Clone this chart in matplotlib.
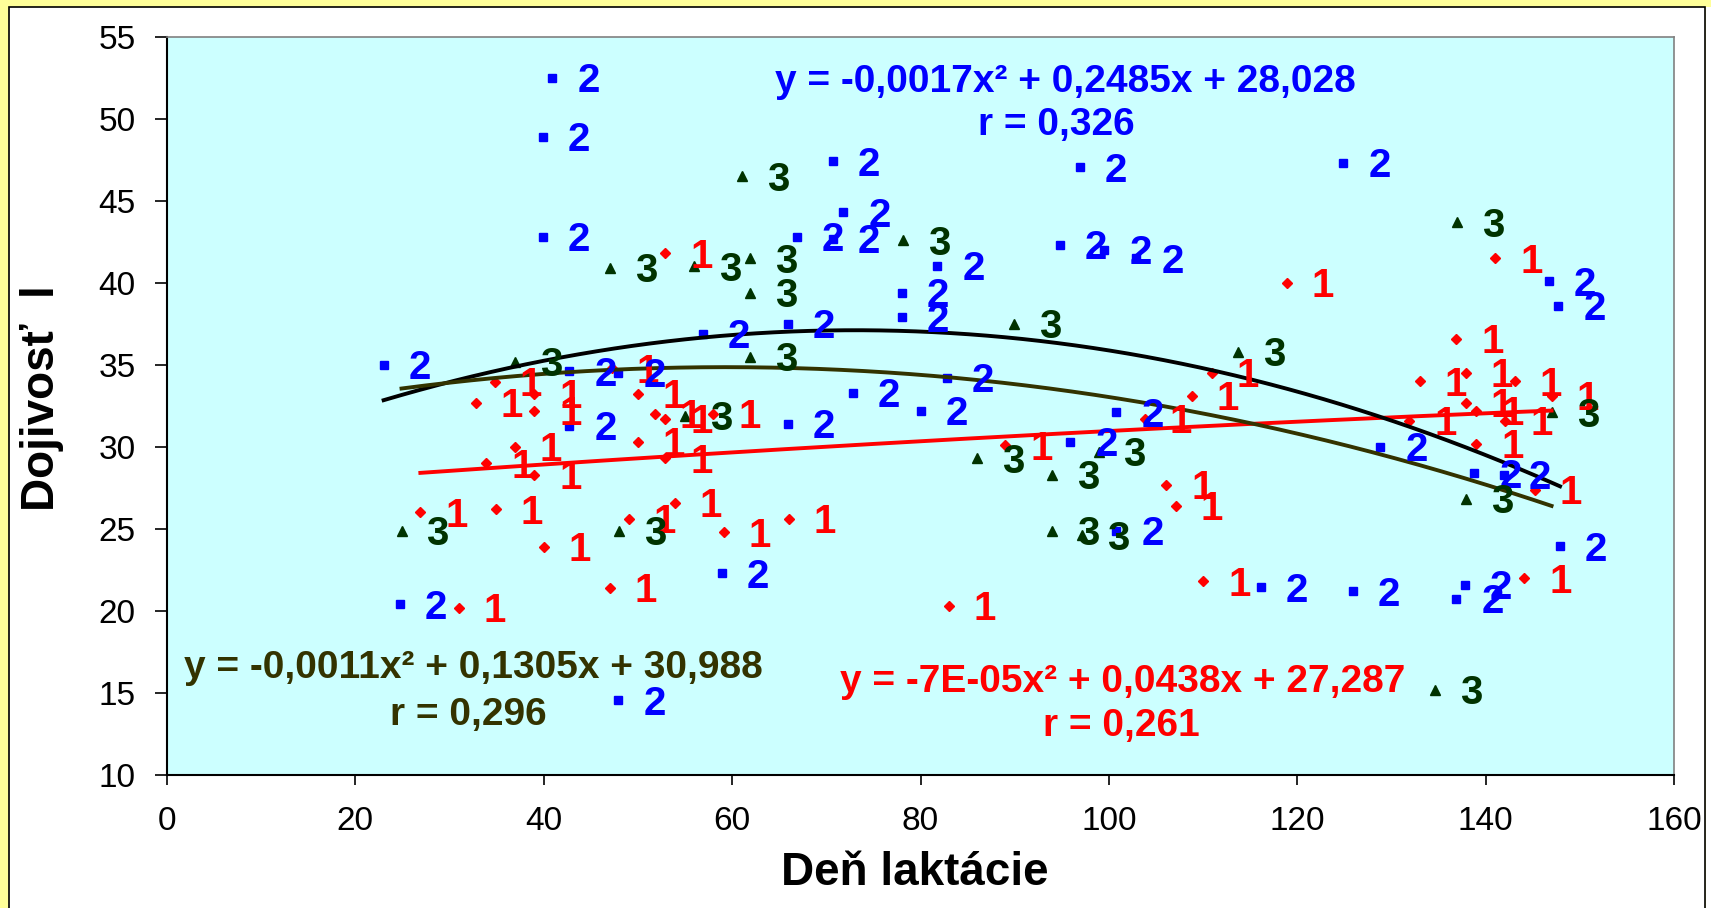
import matplotlib
matplotlib.use('Agg')
import numpy as np
from matplotlib import pyplot as plt
from matplotlib.patches import Rectangle

plt.rcParams['font.family'] = ['Liberation Sans', 'DejaVu Sans']

# group 1 (red diamonds)
day_1 = [26.9, 31.0, 32.8, 33.9, 34.8, 34.9, 36.9, 39.0, 39.0, 39.0, 40.0, 47.0, 47.2, 49.0,
         50.0, 50.0, 51.8, 52.9, 52.9, 52.9, 53.9, 58.0, 59.1, 66.0, 83.0, 89.0, 103.8, 106.1,
         107.1, 108.8, 110.0, 110.9, 118.9, 131.9, 133.0, 136.9, 137.9, 137.9, 139.0, 139.0,
         141.0, 142.1, 143.1, 144.1, 145.2, 147.0]
milk_1 = [26.0, 20.2, 32.7, 29.0, 33.95, 26.2, 30.0, 33.25, 32.2, 28.3, 23.9, 21.4, 34.8, 25.6,
          33.25, 30.3, 32.0, 31.7, 29.3, 41.8, 26.6, 32.0, 24.8, 25.6, 20.3, 30.1, 31.7, 27.7,
          26.4, 33.1, 21.8, 34.5, 40.0, 31.6, 34.0, 36.6, 34.5, 32.7, 32.2, 30.2,
          41.5, 31.6, 34.0, 22.0, 27.4, 33.1]

# group 2 (blue squares)
day_2 = [23.0, 24.7, 40.9, 39.9, 39.9, 42.7, 42.7, 47.9, 47.9, 56.9, 58.9, 65.9, 65.9, 66.9,
         70.7, 70.7, 71.8, 72.8, 78.0, 78.0, 80.0, 81.8, 82.8, 94.8, 95.9, 96.9, 99.5, 100.8,
         100.8, 102.9, 116.1, 124.9, 125.9, 128.8, 136.9, 137.8, 138.8, 141.9, 146.7, 147.7, 147.9]
milk_2 = [35.0, 20.4, 52.5, 48.9, 42.8, 34.6, 31.3, 34.5, 14.55, 36.9, 22.3, 37.5, 31.4, 42.8,
          47.4, 42.7, 44.3, 33.3, 39.4, 37.9, 32.2, 41.05, 34.2, 42.3, 30.3, 47.05, 42.0, 32.1,
          24.9, 41.5, 21.45, 47.3, 21.2, 30.0, 20.75, 21.6, 28.4, 28.3, 40.1, 38.6, 23.95]

# group 3 (green triangles)
day_3 = [24.9, 36.9, 47.0, 48.0, 55.0, 56.0, 61.1, 61.9, 61.9, 61.9, 78.1, 86.0, 89.9, 94.0,
         94.0, 97.1, 98.9, 113.7, 134.6, 137.0, 137.9, 147.0]
milk_3 = [24.9, 35.2, 40.9, 24.9, 31.9, 41.0, 46.5, 41.5, 39.4, 35.5, 42.6, 29.3, 37.5, 28.3,
          24.9, 24.6, 29.7, 35.8, 15.2, 43.7, 26.85, 32.1]

# polynomial trendlines as printed on the chart
coef_1 = [-7e-05, 0.0438, 27.287]
coef_2 = [-0.0017, 0.2485, 28.028]
coef_3 = [-0.0011, 0.1305, 30.988]
eq_1 = ['y = -7E-05x\u00b2 + 0,0438x + 27,287', 'r = 0,261']
eq_2 = ['y = -0,0017x\u00b2 + 0,2485x + 28,028', 'r = 0,326']
eq_3 = ['y = -0,0011x\u00b2 + 0,1305x + 30,988', 'r = 0,296']

W, H = 1711, 908
fig = plt.figure(figsize=(W / 100, H / 100), dpi=100)
fig.patch.set_facecolor('#FFFF99')
fig.patches.append(Rectangle((9 / W, -0.02), (1705 - 9) / W, 1 - 7 / H + 0.02, transform=fig.transFigure,
                             facecolor='white', edgecolor='black', lw=1.2, zorder=-5))
fig.patches.append(Rectangle((1706 / W, -0.02), 6 / W, 1 - 7 / H + 0.02, transform=fig.transFigure,
                             facecolor='white', edgecolor='none', zorder=-5))

ax = fig.add_axes([167 / W, 1 - 775 / H, (1674 - 167) / W, (775 - 36.7) / H])
ax.set_facecolor('#CCFFFF')
ax.set_xlim(0, 160)
ax.set_ylim(10, 55)
ax.set_xticks(range(0, 161, 20))
ax.set_yticks(range(10, 56, 5))
ax.tick_params(axis='both', direction='out', labelsize=24, width=1.2, color='black')
ax.tick_params(axis='y', length=8.5, pad=14)
ax.tick_params(axis='x', length=7.5, pad=15)
for side in ['left', 'bottom']:
    ax.spines[side].set_color('black')
    ax.spines[side].set_linewidth(1.5)
for side in ['top', 'right']:
    ax.spines[side].set_color('#808080')
    ax.spines[side].set_linewidth(1.2)

series = [
    (day_1, milk_1, coef_1, eq_1, 'D', 5.0, '#FF0000', '#FF0000', '1'),
    (day_2, milk_2, coef_2, eq_2, 's', 5.8, '#0000FF', '#000000', '2'),
    (day_3, milk_3, coef_3, eq_3, '^', 7.0, '#003300', '#333300', '3'),
]

label_size = 29
for days, milk, coef, eq, marker, ms, color, line_color, tag in series:
    ax.plot(days, milk, linestyle='none', marker=marker, markersize=ms, color=color, zorder=3)
    xs = np.linspace(min(days), max(days), 200)
    ax.plot(xs, np.polyval(coef, xs), color=line_color, lw=2.8, zorder=4)
    for x, y in zip(days, milk):
        ax.annotate(tag, (x, y), xytext=(18, -0.358 * label_size), textcoords='offset points',
                    ha='left', va='baseline', fontsize=label_size, fontweight='bold', color=color,
                    zorder=5, annotation_clip=False)

eq_pos = {
    '1': ((0.634, 0.126), (0.633, 0.067), '#FF0000'),
    '2': ((0.596, 0.939), (0.590, 0.880), '#0000FF'),
    '3': ((0.203, 0.145), (0.200, 0.081), '#333300'),
}
for days, milk, coef, eq, marker, ms, color, line_color, tag in series:
    p1, p2, c = eq_pos[tag]
    ax.text(p1[0], p1[1], eq[0], transform=ax.transAxes, ha='center', va='center',
            fontsize=28, fontweight='bold', color=c, zorder=6)
    ax.text(p2[0], p2[1], eq[1], transform=ax.transAxes, ha='center', va='center',
            fontsize=28, fontweight='bold', color=c, zorder=6)

fig.text(915 / W, 1 - 873 / H, 'De\u0148 lakt\u00e1cie', ha='center', va='center',
         fontsize=33, fontweight='bold')
fig.text(42 / W, 1 - 398 / H, 'Dojivos\u0165  l', ha='center', va='center', rotation=90,
         fontsize=33, fontweight='bold')

fig.savefig('out.png', dpi=100, facecolor=fig.get_facecolor())
